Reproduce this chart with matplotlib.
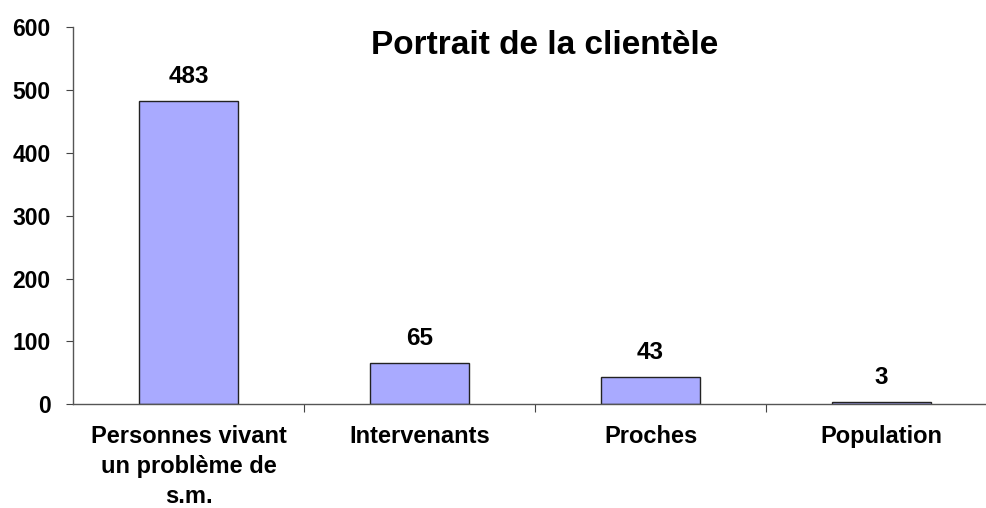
import matplotlib
matplotlib.use("Agg")
import matplotlib.pyplot as plt

categories = ["Personnes vivant\nun problème de\ns.m.", "Intervenants", "Proches", "Population"]
values = [483, 65, 43, 3]
yticks = [0, 100, 200, 300, 400, 500, 600]
title = "Portrait de la clientèle"

plt.rcParams['font.family'] = ['Liberation Sans', 'DejaVu Sans']

fig = plt.figure(figsize=(9.86, 5.08), dpi=100)
ax = fig.add_axes([73/986, (508-404)/508, 924/986, 376.5/508])

x = list(range(len(values)))
bars = ax.bar(x, values, width=0.43, color='#A9AAFF', edgecolor='#222222', linewidth=1.0)
for xi, v in zip(x, values):
    ax.annotate(str(v), (xi, v), xytext=(0, 9.5), textcoords='offset points',
                ha='center', va='bottom', fontsize=17.5, fontweight='bold')

ax.set_xlim(-0.5, 3.5)
ax.set_ylim(0, 600)
ax.set_yticks(yticks)
ax.set_yticklabels([str(t) for t in yticks], fontsize=16.5, fontweight='bold')
ax.set_xticks([0.5, 1.5, 2.5], minor=False)
ax.set_xticklabels([])
ax.set_xticks(x, minor=True)
ax.set_xticklabels(categories, minor=True, fontsize=17, fontweight='bold', linespacing=1.38)
ax.tick_params(axis='x', which='minor', length=0, pad=15)
ax.tick_params(axis='x', which='major', length=6, direction='out', color='#444444')
ax.tick_params(axis='y', length=5, direction='out', color='#444444', pad=11)

for s in ['top', 'right']:
    ax.spines[s].set_visible(False)
for s in ['left', 'bottom']:
    ax.spines[s].set_color('#555555')
    ax.spines[s].set_linewidth(1.0)

fig.text(545/986, 1 - 45/508, title, ha='center', va='center', fontsize=24, fontweight='bold')

fig.savefig('out.png', dpi=100)
